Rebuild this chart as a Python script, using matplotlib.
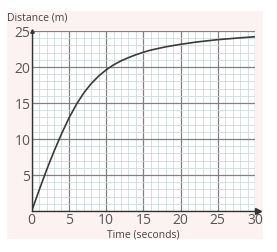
import matplotlib
matplotlib.use('Agg')
import matplotlib.pyplot as plt
from matplotlib.patches import Rectangle

# Data
time_s = [0, 1, 2, 3, 4, 5, 6, 7, 8, 9, 10, 11, 12, 13, 14, 15, 16, 18, 20, 22, 25, 28, 30]
distance_m = [0, 2.9, 5.7, 8.3, 10.7, 12.9, 14.8, 16.4, 17.7, 18.75, 19.6, 20.3, 20.85,
              21.3, 21.7, 22.05, 22.35, 22.8, 23.15, 23.45, 23.8, 24.05, 24.2]
x_ticks = [0, 5, 10, 15, 20, 25, 30]
y_ticks = [0, 5, 10, 15, 20, 25]
y_labels = ['', '5', '10', '15', '20', '25']

plt.rcParams['font.family'] = ['Open Sans', 'DejaVu Sans']

fig = plt.figure(figsize=(2.77, 2.53), dpi=100)
fig.patch.set_facecolor('white')
# pale pink card behind the graph
fig.patches.append(Rectangle((7 / 277, 1 - 240 / 253), 256 / 277, 228 / 253,
                             transform=fig.transFigure, facecolor='#fdf2f2',
                             edgecolor='none', zorder=-5))

ax = fig.add_axes([31.7 / 277, 41 / 253, 223.3 / 277, 180 / 253])
ax.set_zorder(2)
ax.set_facecolor('white')
ax.set_xlim(0, 30)
ax.set_ylim(0, 25)

ax.set_xticks(x_ticks)
ax.set_yticks(y_ticks)
ax.set_xticks(range(0, 31), minor=True)
ax.set_yticks(range(0, 26), minor=True)
ax.set_yticklabels(y_labels)
ax.grid(which='minor', color='#d0dada', lw=0.6)
ax.grid(which='major', color='#808080', lw=0.9)
ax.set_axisbelow(True)
ax.tick_params(which='both', length=0, labelsize=10, colors='#555555', pad=1)

for s in ['top', 'right']:
    ax.spines[s].set_visible(False)
for s in ['left', 'bottom']:
    ax.spines[s].set_color('#333333')
    ax.spines[s].set_linewidth(1.0)

# axis arrows
ax.plot(30.4, 0, '>', color='#333333', ms=4, clip_on=False)
ax.plot(0, 25, '^', color='#333333', ms=2.5, clip_on=False)
ax.plot([30, 30.4], [0, 0], color='#333333', lw=1.0, clip_on=False)

ax.plot(time_s, distance_m, color='#3a3a3a', lw=1.2)

fig.text(7 / 277, 1 - 18 / 253, 'Distance (m)', fontsize=7.5, color='#444444', va='center')
fig.text(143 / 277, 1 - 235 / 253, 'Time (seconds)', fontsize=7.5, color='#444444',
         ha='center', va='center')

fig.savefig('out.png', dpi=100)
